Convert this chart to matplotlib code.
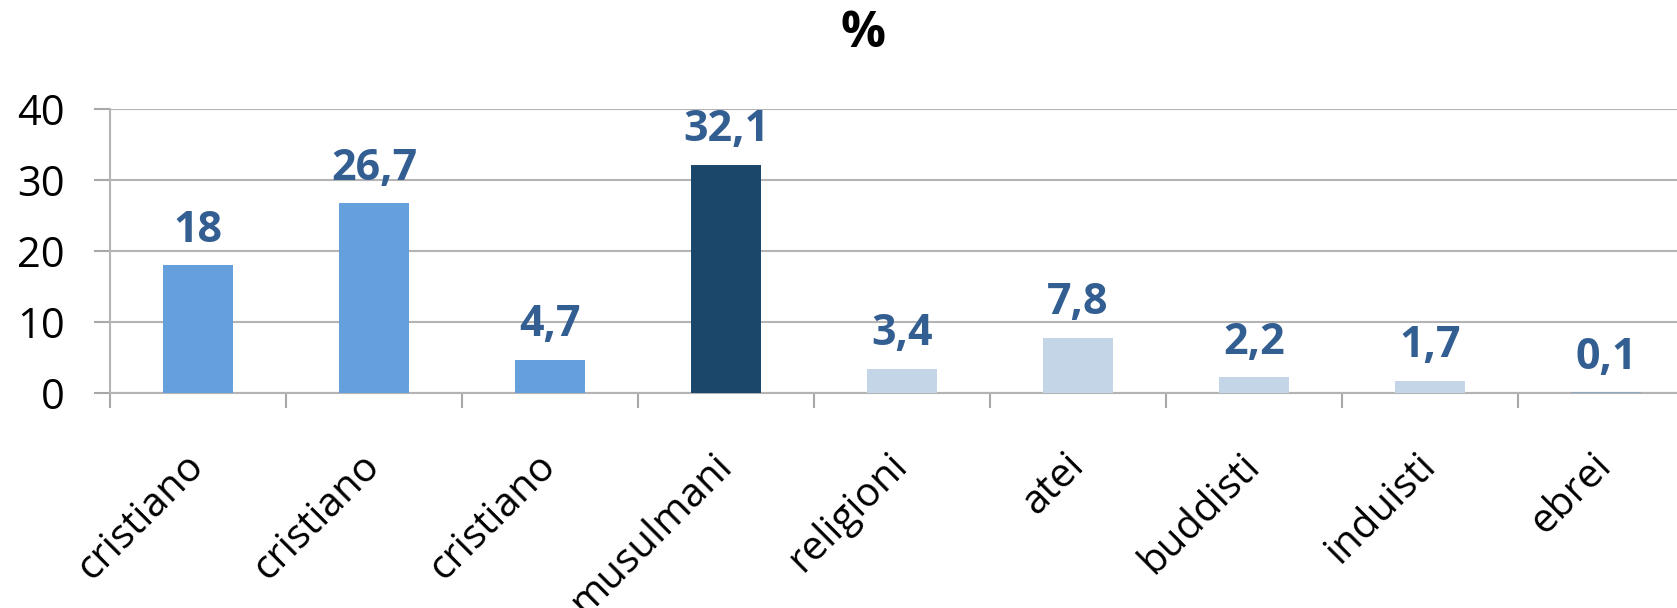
import matplotlib
matplotlib.use('Agg')
import matplotlib.pyplot as plt
import numpy as np

categories = ['cristiano', 'cristiano', 'cristiano', 'musulmani', 'religioni',
              'atei', 'buddisti', 'induisti', 'ebrei']
values = [18, 26.7, 4.7, 32.1, 3.4, 7.8, 2.2, 1.7, 0.1]
value_labels = ['18', '26,7', '4,7', '32,1', '3,4', '7,8', '2,2', '1,7', '0,1']
y_ticks = [0, 10, 20, 30, 40]

bar_colors = ['#659fdc', '#659fdc', '#659fdc', '#1b476b',
              '#c3d5e6', '#c3d5e6', '#c3d5e6', '#c3d5e6', '#8fa7bf']

plt.rcParams['font.family'] = ['Open Sans', 'DejaVu Sans']

W, H = 1677, 608
fig = plt.figure(figsize=(W / 100, H / 100), dpi=100)
# plot area runs past the right edge of the picture, as in the reference
ax = fig.add_axes([110 / W, 1 - 393 / H, (1694 - 110) / W, (393 - 109) / H])

x = np.arange(len(values))
ax.bar(x, values, width=0.4, color=bar_colors, edgecolor='none', zorder=3)

for xi, v, lab in zip(x, values, value_labels):
  ax.annotate(lab, (xi, v), xytext=(0, 17), textcoords='offset points',
              ha='center', va='baseline', fontsize=31, fontweight='bold',
              color='#335e91')

ax.set_xlim(-0.5, len(values) - 0.5)
ax.set_ylim(0, 40)
ax.set_yticks(y_ticks)
ax.set_yticklabels([str(t) for t in y_ticks], fontsize=30)
ax.yaxis.grid(True, color='#b4b4b4', linewidth=1.5, zorder=0)
ax.set_axisbelow(True)

ax.set_xticks(np.arange(len(values)) - 0.5)
ax.set_xticklabels([])
ax.set_xticks(x, minor=True)
ax.set_xticklabels(categories, minor=True, fontsize=29, rotation=45,
                   ha='right', va='center', rotation_mode='anchor')

ax.tick_params(axis='y', length=11.5, width=1.5, color='#a8a8a8', pad=21)
ax.tick_params(axis='x', which='major', length=11, width=1.5, color='#a8a8a8')
ax.tick_params(axis='x', which='minor', length=0, pad=48)

for s in ['top', 'right']:
  ax.spines[s].set_visible(False)
for s in ['left', 'bottom']:
  ax.spines[s].set_color('#b4b4b4')
  ax.spines[s].set_linewidth(1.5)

fig.text(863 / W, 1 - 34 / H, '%', ha='center', va='center',
         fontsize=36, fontweight='bold')

fig.savefig('out.png', dpi=100)
